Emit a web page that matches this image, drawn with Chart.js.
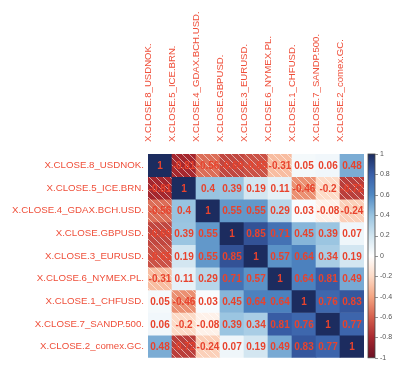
<!DOCTYPE html>
<html lang="en-us">
<head>
    <meta charset="UTF-8">
    <title>Correlation matrix</title>
    <style>
        body { margin: 0; background: #fff; }
        #wrap { width: 406px; height: 378px; }
    </style>
</head>
<body>
    <div id="wrap">
        <canvas id="corr" width="406" height="378"></canvas>
    </div>

    <!-- Chart.js -->
    <script src="https://cdn.jsdelivr.net/npm/chart.js@4.4.1/dist/chart.umd.min.js"></script>

    <script>
        // Labels (rows and columns are the same series)
        var seriesLabels = ["X.CLOSE.8_USDNOK.", "X.CLOSE.5_ICE.BRN.", "X.CLOSE.4_GDAX.BCH.USD.",
            "X.CLOSE.GBPUSD.", "X.CLOSE.3_EURUSD.", "X.CLOSE.6_NYMEX.PL.",
            "X.CLOSE.1_CHFUSD.", "X.CLOSE.7_SANDP.500.", "X.CLOSE.2_comex.GC."];

        // Correlation values, one row per series
        var rowUSDNOK = [1, -0.81, -0.56, -0.69, -0.65, -0.31, 0.05, 0.06, 0.48];
        var rowICEBRN = [-0.81, 1, 0.4, 0.39, 0.19, 0.11, -0.46, -0.2, -0.72];
        var rowGDAX   = [-0.56, 0.4, 1, 0.55, 0.55, 0.29, 0.03, -0.08, -0.24];
        var rowGBPUSD = [-0.69, 0.39, 0.55, 1, 0.85, 0.71, 0.45, 0.39, 0.07];
        var rowEURUSD = [-0.65, 0.19, 0.55, 0.85, 1, 0.57, 0.64, 0.34, 0.19];
        var rowNYMEX  = [-0.31, 0.11, 0.29, 0.71, 0.57, 1, 0.64, 0.81, 0.49];
        var rowCHFUSD = [0.05, -0.46, 0.03, 0.45, 0.64, 0.64, 1, 0.76, 0.83];
        var rowSANDP  = [0.06, -0.2, -0.08, 0.39, 0.34, 0.81, 0.76, 1, 0.77];
        var rowCOMEX  = [0.48, -0.72, -0.24, 0.07, 0.19, 0.49, 0.83, 0.77, 1];

        // Colour legend ticks
        var legendTicks = [-1, -0.8, -0.6, -0.4, -0.2, 0, 0.2, 0.4, 0.6, 0.8, 1];

        var corr = [rowUSDNOK, rowICEBRN, rowGDAX, rowGBPUSD, rowEURUSD, rowNYMEX, rowCHFUSD, rowSANDP, rowCOMEX];

        // RdBu-like ramp, -1 .. 1 (a bit softer at the ends, like the picture)
        var ramp = ["#6B1024", "#A8282F", "#D6604D", "#F4A582", "#FDDBC7", "#FFFFFF",
            "#D1E5F0", "#98C3E0", "#5089C3", "#3A5FA8", "#1C2C5F"];

        var labelRed = "#EF4F3A";
        var numberRed = "#E8432D";
        var fontFamily = "'Liberation Sans', Arial, sans-serif";

        function hexToRgb(h) {
            return [parseInt(h.substr(1, 2), 16), parseInt(h.substr(3, 2), 16), parseInt(h.substr(5, 2), 16)];
        }

        function colorFor(v) {
            var p = (v + 1) / 2 * (ramp.length - 1);
            var i = Math.min(Math.floor(p), ramp.length - 2);
            var t = p - i;
            var a = hexToRgb(ramp[i]), b = hexToRgb(ramp[i + 1]);
            var c = a.map(function(x, k) { return Math.round(x + (b[k] - x) * t); });
            return "rgb(" + c.join(",") + ")";
        }

        // Negative cells get white diagonal hatching
        var patternCache = {};
        function hatch(color) {
            if (patternCache[color]) return patternCache[color];
            var s = 7;
            var c = document.createElement("canvas");
            c.width = s; c.height = s;
            var g = c.getContext("2d");
            g.fillStyle = color;
            g.fillRect(0, 0, s, s);
            g.strokeStyle = "rgba(255,255,255,0.55)";
            g.lineWidth = 1;
            g.beginPath();
            g.moveTo(0, 0); g.lineTo(s, s);
            g.moveTo(-1, s - 1); g.lineTo(1, s + 1);
            g.moveTo(s - 1, -1); g.lineTo(s + 1, 1);
            g.stroke();
            var p = g.createPattern(c, "repeat");
            patternCache[color] = p;
            return p;
        }

        // One stacked dataset per row, each cell one unit high
        var datasets = corr.map(function(row, r) {
            return {
                label: seriesLabels[r],
                data: row.map(function() { return 1; }),
                backgroundColor: function(ctx) {
                    var v = corr[ctx.datasetIndex][ctx.dataIndex];
                    var col = colorFor(v);
                    return v < 0 ? hatch(col) : col;
                },
                borderWidth: 0,
                barPercentage: 1,
                categoryPercentage: 1
            };
        });

        // Numbers in the cells
        var cellText = {
            id: "cellText",
            afterDatasetsDraw: function(chart) {
                var ctx = chart.ctx;
                ctx.save();
                ctx.font = "bold 10px " + fontFamily;
                ctx.fillStyle = numberRed;
                ctx.textAlign = "center";
                ctx.textBaseline = "middle";
                chart.data.datasets.forEach(function(ds, r) {
                    chart.getDatasetMeta(r).data.forEach(function(bar, c) {
                        ctx.fillText(String(corr[r][c]), bar.x, (bar.y + bar.base) / 2 + 1);
                    });
                });
                ctx.restore();
            }
        };

        // Colour legend bar, drawn along its own scale
        var colorBar = {
            id: "colorBar",
            afterDraw: function(chart) {
                var sc = chart.scales.cb;
                var ctx = chart.ctx;
                var x0 = sc.left + 4, w = 7;
                var top = sc.getPixelForValue(1), bottom = sc.getPixelForValue(-1);
                var grad = ctx.createLinearGradient(0, bottom, 0, top);
                ramp.forEach(function(c, i) { grad.addColorStop(i / (ramp.length - 1), c); });
                ctx.save();
                ctx.fillStyle = grad;
                ctx.fillRect(x0, top, w, bottom - top);
                ctx.strokeStyle = "#444";
                ctx.lineWidth = 0.8;
                ctx.strokeRect(x0, top, w, bottom - top);
                ctx.strokeStyle = "#777";
                ctx.beginPath();
                legendTicks.forEach(function(v) {
                    var y = Math.round(sc.getPixelForValue(v)) + 0.5;
                    ctx.moveTo(x0 + w, y);
                    ctx.lineTo(x0 + w + 3, y);
                });
                ctx.stroke();
                ctx.restore();
            }
        };

        var ctx = document.getElementById("corr");
        var myChart = new Chart(ctx, {
            type: "bar",
            data: {
                labels: seriesLabels,
                datasets: datasets
            },
            options: {
                responsive: false,
                animation: false,
                layout: { padding: { bottom: 10, top: 0, left: 0, right: 0 } },
                plugins: {
                    legend: { display: false },
                    tooltip: { enabled: false }
                },
                scales: {
                    x: {
                        position: "top",
                        stacked: true,
                        grid: { display: false },
                        border: { display: false },
                        ticks: {
                            autoSkip: false,
                            minRotation: 90,
                            maxRotation: 90,
                            padding: 4,
                            color: labelRed,
                            font: { size: 9.6, family: fontFamily }
                        },
                        afterFit: function(s) { s.height = 154; }
                    },
                    y: {
                        position: "left",
                        stacked: true,
                        min: 0,
                        max: 9,
                        reverse: true,
                        grid: { display: false, drawTicks: false },
                        border: { display: false },
                        afterBuildTicks: function(s) {
                            s.ticks = seriesLabels.map(function(l, i) { return { value: i + 0.5 }; });
                        },
                        ticks: {
                            padding: 4,
                            color: labelRed,
                            font: { size: 9.7, family: fontFamily },
                            callback: function(v) { return seriesLabels[Math.floor(v)]; }
                        },
                        afterFit: function(s) { s.width = 148; }
                    },
                    cb: {
                        type: "linear",
                        position: "right",
                        display: true,
                        min: -1,
                        max: 1,
                        grid: { display: false, drawTicks: false },
                        border: { display: false },
                        afterBuildTicks: function(s) {
                            s.ticks = legendTicks.map(function(v) { return { value: v }; });
                        },
                        ticks: {
                            padding: 16,
                            color: "#555",
                            font: { size: 7, family: fontFamily },
                            callback: function(v) { return String(Math.round(v * 10) / 10); }
                        },
                        afterFit: function(s) { s.width = 42; }
                    }
                }
            },
            plugins: [cellText, colorBar]
        });
    </script>
</body>
</html>
